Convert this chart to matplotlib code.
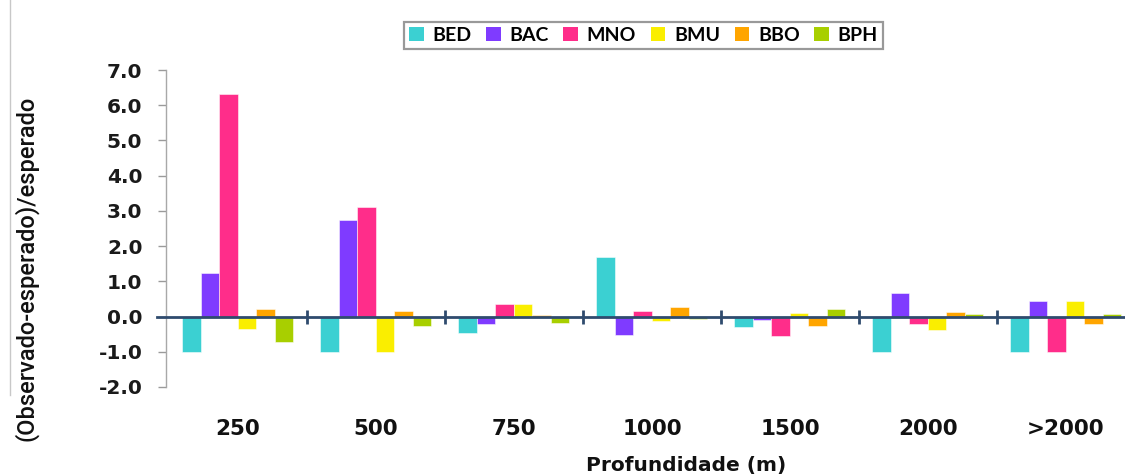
import matplotlib
matplotlib.use("Agg")
import matplotlib.pyplot as plt
from matplotlib.patches import Patch
from matplotlib.lines import Line2D
import numpy as np

categories = ["250", "500", "750", "1000", "1500", "2000", ">2000"]
series_names = ["BED", "BAC", "MNO", "BMU", "BBO", "BPH"]
BED = [-1.0, -1.0, -0.47, 1.70, -0.30, -1.0, -1.0]
BAC = [1.25, 2.75, -0.21, -0.51, -0.09, 0.66, 0.43]
MNO = [6.33, 3.12, 0.36, 0.15, -0.55, -0.21, -1.0]
BMU = [-0.34, -1.0, 0.36, -0.13, 0.09, -0.38, 0.43]
BBO = [0.22, 0.15, 0.05, 0.26, -0.28, 0.12, -0.21]
BPH = [-0.71, -0.28, -0.17, -0.08, 0.22, 0.06, 0.06]
series_values = [BED, BAC, MNO, BMU, BBO, BPH]
colors = ["#3BD0D2", "#7F3BFF", "#FF2D8A", "#FAEE00", "#FFA500", "#A8CF00"]
yticks = [-2.0, -1.0, 0.0, 1.0, 2.0, 3.0, 4.0, 5.0, 6.0, 7.0]

fig = plt.figure(figsize=(11.25, 4.75), dpi=100)
ax = fig.add_axes([166 / 1125, (475 - 387) / 475, 969 / 1125, 317 / 475])

x = np.arange(len(categories))
bw = 0.134
for i, (name, vals, c) in enumerate(zip(series_names, series_values, colors)):
    ax.bar(x + (i - 2.5) * bw, vals, width=bw, color=c, edgecolor=(1, 1, 1, 0.6),
           linewidth=0.6, label=name, zorder=2)

ax.set_xlim(-0.52, len(categories) - 0.5)
ax.set_ylim(-2, 7)
ax.set_yticks(yticks)
ax.set_yticklabels([f"{v:.1f}" for v in yticks], fontsize=14.5, fontweight="bold",
                   family="DejaVu Sans", color="#1a1a1a")
ax.tick_params(axis="y", direction="out", length=6, width=1, color="#9a9a9a", pad=11)
ax.set_xticks(x)
ax.set_xticklabels(categories, fontsize=15.5, color="#111111", fontweight="bold",
                   family="DejaVu Sans")
ax.tick_params(axis="x", length=0, pad=23)

for s in ["top", "right", "bottom"]:
    ax.spines[s].set_visible(False)
ax.spines["left"].set_color("#a8a8a8")
ax.spines["left"].set_linewidth(1)

zc = "#2F4B6E"
ax.axhline(0, xmin=-0.0093, xmax=1.0, color=zc, linewidth=2, clip_on=False, zorder=3)
ax.vlines(x[:-1] + 0.5, -0.2, 0.2, color=zc, linewidth=2, zorder=3)

ax.set_ylabel("(Observado-esperado)/esperado", fontsize=17, fontweight="medium",
              family="Roboto", color="#111111")
ax.yaxis.set_label_coords((39 - 166) / 969, (387 - 268) / 317)
ax.set_xlabel("Profundidade (m)", fontsize=14.5, fontweight="bold", color="#111111",
              family="DejaVu Sans")
ax.xaxis.set_label_coords((686 - 166) / 969, -(466 - 387) / 317)
ax.xaxis.label.set_va("center")

handles = [Patch(facecolor=c, edgecolor="none") for c in colors]
leg = fig.legend(handles, series_names, loc="center", bbox_to_anchor=(0.572, 0.926),
                 ncol=6, frameon=True, fancybox=False, prop=dict(family="Lato", weight="bold", size=14),
                 handlelength=0.75, handleheight=0.75, handletextpad=0.45, columnspacing=0.75,
                 borderpad=0.25)
leg.get_frame().set_edgecolor("#808080")
leg.get_frame().set_linewidth(1.6)

fig.add_artist(Line2D([10 / 1125, 10 / 1125], [(475 - 395) / 475, 1.0], color="#c8c8c8",
                      linewidth=1, transform=fig.transFigure))

fig.savefig("out.png", dpi=100)
